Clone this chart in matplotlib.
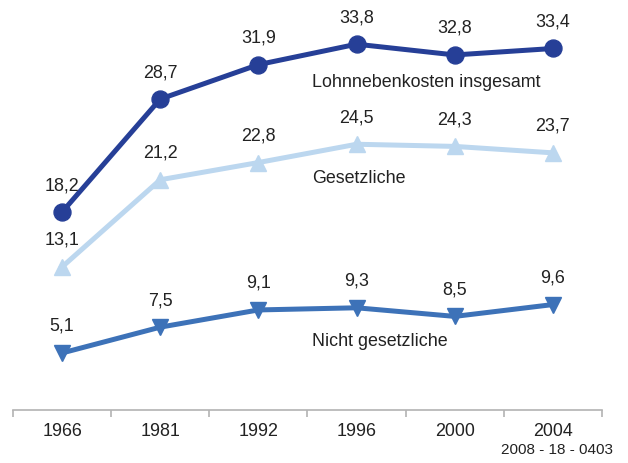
import matplotlib
matplotlib.use("Agg")
import matplotlib.pyplot as plt

plt.rcParams['font.family'] = ['Liberation Sans', 'DejaVu Sans']

# data
years = ["1966", "1981", "1992", "1996", "2000", "2004"]
gesamt = [18.2, 28.7, 31.9, 33.8, 32.8, 33.4]
gesetzlich = [13.1, 21.2, 22.8, 24.5, 24.3, 23.7]
nicht_gesetzlich = [5.1, 7.5, 9.1, 9.3, 8.5, 9.6]

c_dark = "#263f97"
c_light = "#bcd7ef"
c_mid = "#3d72b8"
txt = "#222222"
fs = 12.9

fig = plt.figure(figsize=(6.28, 4.64), dpi=100)
ax = fig.add_axes([13 / 628, 1 - 411 / 464, 589 / 628, 411 / 464])

x = list(range(len(years)))
ax.plot(x, gesamt, color=c_dark, lw=3.6, marker="o", markersize=12.2, zorder=3)
ax.plot(x, gesetzlich, color=c_light, lw=3.6, marker="^", markersize=11.5, zorder=2)
ax.plot(x, nicht_gesetzlich, color=c_mid, lw=3.6, marker="v", markersize=11.5, zorder=2)

def fmt(v):
    return f"{v:.1f}".replace(".", ",")

for series in (gesamt, gesetzlich, nicht_gesetzlich):
    for i, v in enumerate(series):
        ax.annotate(fmt(v), (i, v), xytext=(0, 19.8), textcoords="offset points",
                    ha="center", va="center", fontsize=fs, color=txt)

# series names
ax.text(2.546, 30.35, "Lohnnebenkosten insgesamt", fontsize=fs, color=txt, va="center")
ax.text(2.546, 21.45, "Gesetzliche", fontsize=fs, color=txt, va="center")
ax.text(2.546, 6.25, "Nicht gesetzliche", fontsize=fs, color=txt, va="center")

ax.set_xlim(-0.5, 5.5)
ax.set_ylim(-0.2, 38)

# axis styling
for s in ("top", "right", "left"):
    ax.spines[s].set_visible(False)
ax.spines["bottom"].set_color("#b3b3b3")
ax.spines["bottom"].set_linewidth(1.2)
ax.set_yticks([])
ax.set_xticks([i - 0.5 for i in range(len(years) + 1)])
ax.set_xticklabels([])
ax.set_xticks(x, minor=True)
ax.set_xticklabels(years, minor=True, fontsize=fs, color=txt)
ax.tick_params(axis="x", which="major", direction="out", length=5, color="#b3b3b3", width=1.2)
ax.tick_params(axis="x", which="minor", length=0, pad=9)

fig.text(613 / 628, 1 - 450 / 464, "2008 - 18 - 0403", ha="right", va="center",
         fontsize=11, color=txt)

fig.savefig("out.png", dpi=100)
